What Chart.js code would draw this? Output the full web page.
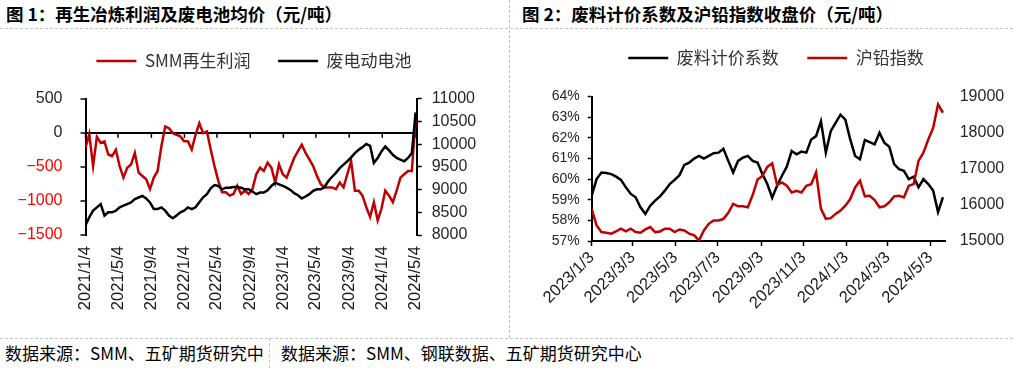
<!DOCTYPE html>
<html>
<head>
<meta charset="utf-8">
<script src="https://cdn.jsdelivr.net/npm/chart.js@4.4.1/dist/chart.umd.min.js"></script>
<style>
  body { margin: 0; background: #fff; }
  #page { position: relative; width: 1013px; height: 368px; overflow: hidden; font-family: 'Noto Sans CJK SC', sans-serif; }
  .title { position: absolute; top: 3px; font-size: 17.5px; font-weight: bold; color: #000; white-space: nowrap; line-height: 22px; }
  .source { position: absolute; top: 341px; font-size: 17px; color: #000; white-space: nowrap; line-height: 24px; }
  .hdash { position: absolute; left: 0; width: 1013px; height: 0; border-top: 1px dashed #c4c4c4; }
  .vdash { position: absolute; width: 0; border-left: 1px dashed #c4c4c4; }
  canvas { position: absolute; }
</style>
</head>
<body>
<div id="page">
  <div class="title" style="left:6px">图 1：再生冶炼利润及废电池均价（元/吨）</div>
  <div class="title" style="left:522px">图 2：废料计价系数及沪铅指数收盘价（元/吨）</div>
  <div class="hdash" style="top:28px"></div>
  <div class="hdash" style="top:338px"></div>
  <div class="vdash" style="left:509px; top:0; height:338px"></div>
  <div class="vdash" style="left:269px; top:338px; height:30px"></div>
  <div class="source" style="left:5px">数据来源：SMM、五矿期货研究中</div>
  <div class="source" style="left:281px">数据来源：SMM、钢联数据、五矿期货研究中心</div>
  <canvas id="c1" width="508" height="311" style="left:0; top:25px"></canvas>
  <canvas id="c2" width="502" height="315" style="left:511px; top:21px"></canvas>
</div>
<script>
// 图1：每两周取一个点，从 2021/1/4 开始
const leftStart = '2021-01-04';
const leftStepDays = 14;
const leftTickLabels = ['2021/1/4', '2021/5/4', '2021/9/4', '2022/1/4', '2022/5/4', '2022/9/4',
                        '2023/1/4', '2023/5/4', '2023/9/4', '2024/1/4', '2024/5/4'];
const smmProfit = [
  -217, -20, -488, -60, -149, -125, -318, -343, -250, -488,
  -657, -512, -464, -294, -584, -633, -681, -826, -657, -560,
  -198, 92, 68, -4, -28, -52, -125, -125, -246, -28,
  141, -4, 20, -246, -488, -705, -874, -874, -922, -898,
  -778, -898, -850, -898, -826, -608, -512, -560, -439, -512,
  -729, -463, -608, -657, -512, -367, -270, -173, -294, -391,
  -487, -632, -753, -801, -801, -801, -826, -729, -801, -608,
  -415, -850, -850, -922, -1091, -1236, -1019, -1285, -1115, -850,
  -922, -1019, -850, -657, -608, -560, -560, 200
];
const scrapBatteryPrice = [
  8211, 8391, 8536, 8609, 8681, 8428, 8500, 8500, 8536, 8609,
  8645, 8681, 8717, 8790, 8826, 8862, 8804, 8717, 8572, 8572,
  8609, 8536, 8428, 8370, 8428, 8500, 8536, 8609, 8572, 8609,
  8720, 8830, 8900, 9030, 9100, 9080, 9007, 9043, 9043, 9058,
  9058, 9043, 9007, 9007, 8957, 8899, 8935, 8935, 8986, 9080,
  9152, 9116, 9080, 9044, 8993, 8920, 8877, 8805, 8848, 8899,
  8971, 9007, 9007, 9058, 9188, 9283, 9370, 9471, 9551, 9623,
  9710, 9804, 9877, 9935, 10007, 9964, 9587, 9696, 9841, 9949,
  9862, 9768, 9696, 9659, 9623, 9696, 9804, 10700
];

// 图2：每周取一个点，从 2023/1/3 开始
const rightStart = '2023-01-03';
const rightStepDays = 7;
const rightTickLabels = ['2023/1/3', '2023/3/3', '2023/5/3', '2023/7/3', '2023/9/3',
                         '2023/11/3', '2024/1/3', '2024/3/3', '2024/5/3'];
const scrapCoefficient = [
  59.2, 60.0, 60.32, 60.29, 60.24, 60.12, 59.96, 59.6, 59.28, 59.12,
  58.63, 58.31, 58.71, 58.96, 59.16, 59.44, 59.76, 59.96, 60.19, 60.69,
  60.8, 60.99, 61.12, 60.99, 61.12, 61.25, 61.28, 61.47, 60.88, 60.32,
  60.88, 61.04, 61.12, 60.88, 60.8, 60.24, 59.76, 59.1, 59.68, 60.16,
  60.6, 61.36, 61.2, 61.33, 61.28, 61.92, 62.08, 62.8, 61.28, 62.32,
  62.72, 63.12, 62.88, 61.92, 61.12, 60.96, 61.89, 61.79, 61.68, 62.24,
  61.76, 61.57, 60.72, 60.48, 60.4, 60.0, 60.12, 59.6, 60.0, 59.76,
  59.44, 58.4, 59.12
];
const leadIndex = [
  15888, 15430, 15247, 15229, 15201, 15265, 15339, 15265, 15339, 15247,
  15229, 15320, 15384, 15247, 15265, 15339, 15339, 15247, 15320, 15293,
  15201, 15156, 15018, 15293, 15476, 15567, 15567, 15613, 15778, 16025,
  15961, 15961, 15934, 16272, 16700, 16800, 17050, 17150, 16550, 16620,
  16529, 16345, 16391, 16345, 16529, 16574, 16900, 15888, 15613, 15632,
  15751, 15842, 15979, 16162, 16483, 16666, 16236, 16254, 16135, 15934,
  15961, 16071, 16236, 16254, 16208, 16529, 16574, 17215, 17444, 17810,
  18130, 18780, 18550
];

const RED = '#C00000';
const BLACK = '#000000';
const LATIN = "'Liberation Sans', 'Noto Sans CJK SC', sans-serif";

Chart.defaults.font.family = LATIN;
Chart.defaults.animation = false;

const dayNum = s => {
  const [y, m, d] = s.split(/[-\/]/).map(Number);
  return Date.UTC(y, m - 1, d) / 86400000;
};
const toPoints = (values, start, step) => values.map((v, i) => ({x: dayNum(start) + i * step, y: v}));
const fixWidth = w => scale => { scale.width = w; };
const fixHeight = h => scale => { scale.height = h; };
const legendOpts = pad => ({
  position: 'top',
  labels: {
    usePointStyle: true,
    pointStyle: 'line',
    pointStyleWidth: 40,
    padding: pad,
    color: '#333',
    font: {family: "'Noto Sans CJK SC', sans-serif", size: 17},
    sort: (a, b) => a.datasetIndex - b.datasetIndex
  }
});

// 图例下方留白
const legendGap = extra => ({
  id: 'legendGap',
  beforeInit(chart) {
    const fit = chart.legend.fit;
    chart.legend.fit = function () {
      fit.call(this);
      this.height += extra;
    };
  }
});

// 0 轴上的刻度线
const zeroTicks = {
  id: 'zeroTicks',
  beforeDatasetsDraw(chart) {
    const x = chart.scales.x, y = chart.scales.y;
    const y0 = y.getPixelForValue(0);
    const ctx = chart.ctx;
    ctx.save();
    ctx.strokeStyle = '#000';
    ctx.lineWidth = 1.5;
    x.ticks.forEach(t => {
      const px = x.getPixelForValue(t.value);
      ctx.beginPath();
      ctx.moveTo(px, y0);
      ctx.lineTo(px, y0 + 5);
      ctx.stroke();
    });
    ctx.restore();
  }
};

new Chart(document.getElementById('c1'), {
  type: 'line',
  data: {
    datasets: [
      {label: 'SMM再生利润', data: toPoints(smmProfit, leftStart, leftStepDays), yAxisID: 'y',
       borderColor: RED, backgroundColor: RED, borderWidth: 2.5, pointRadius: 0, order: 1},
      {label: '废电动电池', data: toPoints(scrapBatteryPrice, leftStart, leftStepDays), yAxisID: 'y1',
       borderColor: BLACK, backgroundColor: BLACK, borderWidth: 2.5, pointRadius: 0, order: 0}
    ]
  },
  options: {
    responsive: false,
    layout: {padding: 0},
    plugins: {legend: legendOpts(27.5), tooltip: {enabled: false}},
    scales: {
      x: {
        type: 'linear',
        min: dayNum(leftStart),
        max: dayNum('2024-05-10'),
        afterBuildTicks: axis => { axis.ticks = leftTickLabels.map(s => ({value: dayNum(s)})); },
        afterFit: fixHeight(101),
        grid: {display: false, drawTicks: false},
        border: {display: false},
        ticks: {
          autoSkip: false, minRotation: 90, maxRotation: 90, padding: 11,
          color: '#1a1a1a', font: {size: 16.5},
          callback: (v, i) => leftTickLabels[i]
        }
      },
      y: {
        position: 'left',
        min: -1500, max: 500,
        afterFit: fixWidth(85.5),
        afterBuildTicks: axis => { axis.ticks = [-1500, -1000, -500, 0, 500].map(v => ({value: v})); },
        border: {display: true, color: '#000', width: 2},
        grid: {
          color: c => c.tick && c.tick.value === 0 ? '#000' : 'rgba(0,0,0,0)',
          lineWidth: 2, tickColor: '#000', tickWidth: 1.5, tickLength: 5
        },
        ticks: {
          padding: 18, font: {size: 16},
          color: c => c.tick.value < 0 ? '#FF0000' : '#262626',
          callback: v => v < 0 ? '\u2212' + Math.abs(v) : String(v)
        }
      },
      y1: {
        position: 'right',
        min: 8000, max: 11000,
        afterFit: fixWidth(91.3),
        afterBuildTicks: axis => {
          axis.ticks = [8000, 8500, 9000, 9500, 10000, 10500, 11000].map(v => ({value: v}));
        },
        border: {display: true, color: '#000', width: 2},
        grid: {drawOnChartArea: false, tickColor: '#000', tickWidth: 1.5, tickLength: 5},
        ticks: {padding: 10, font: {size: 16}, color: '#262626', callback: v => String(v)}
      }
    }
  },
  plugins: [zeroTicks, legendGap(19.3)]
});

new Chart(document.getElementById('c2'), {
  type: 'line',
  data: {
    datasets: [
      {label: '废料计价系数', data: toPoints(scrapCoefficient, rightStart, rightStepDays), yAxisID: 'y',
       borderColor: BLACK, backgroundColor: BLACK, borderWidth: 2.5, pointRadius: 0, order: 1},
      {label: '沪铅指数', data: toPoints(leadIndex, rightStart, rightStepDays), yAxisID: 'y1',
       borderColor: RED, backgroundColor: RED, borderWidth: 2.5, pointRadius: 0, order: 0}
    ]
  },
  options: {
    responsive: false,
    layout: {padding: {left: 28}},
    plugins: {legend: legendOpts(28.5), tooltip: {enabled: false}},
    scales: {
      x: {
        type: 'linear',
        min: dayNum(rightStart),
        max: dayNum('2024-05-25'),
        afterBuildTicks: axis => { axis.ticks = rightTickLabels.map(s => ({value: dayNum(s)})); },
        afterFit: fixHeight(95),
        border: {display: true, color: '#000', width: 2},
        grid: {drawOnChartArea: false, tickColor: '#000', tickWidth: 1.5, tickLength: 5},
        ticks: {
          autoSkip: false, minRotation: 45, maxRotation: 45, padding: 2,
          color: '#1a1a1a', font: {size: 16.5},
          callback: (v, i) => rightTickLabels[i]
        }
      },
      y: {
        position: 'left',
        min: 57, max: 64,
        afterFit: fixWidth(52.7),
        afterBuildTicks: axis => { axis.ticks = [57, 58, 59, 60, 61, 62, 63, 64].map(v => ({value: v})); },
        border: {display: true, color: '#000', width: 2},
        grid: {drawOnChartArea: false, tickColor: '#000', tickWidth: 1.5, tickLength: 4},
        ticks: {padding: 8, font: {size: 14}, color: '#262626', callback: v => v + '%'}
      },
      y1: {
        position: 'right',
        min: 15000, max: 19000,
        afterFit: fixWidth(67.3),
        afterBuildTicks: axis => {
          axis.ticks = [15000, 16000, 17000, 18000, 19000].map(v => ({value: v}));
        },
        border: {display: false},
        grid: {display: false, drawTicks: false},
        ticks: {padding: 14, font: {size: 16}, color: '#262626', callback: v => String(v)}
      }
    }
  },
  plugins: [legendGap(20)]
});
</script>
</body>
</html>
